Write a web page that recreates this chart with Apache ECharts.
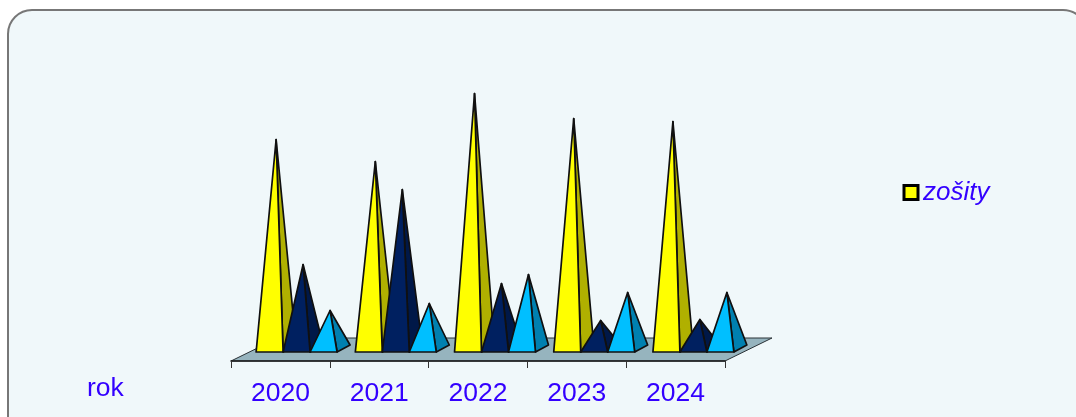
<!DOCTYPE html>
<html><head><meta charset="utf-8">
<style>html,body{margin:0;padding:0;background:#fff;overflow:hidden}#c{width:1076px;height:417px}</style>
<script src="https://cdn.jsdelivr.net/npm/echarts@6/dist/echarts.min.js"></script>
</head><body><div id="c"></div>
<script>
const categories = ['2020','2021','2022','2023','2024'];
const zosity = [209,187,255,230,227];
const rada2  = [84,159,65,28,29];
const rada3  = [38,45,74,56,56];
const legendLabel = 'zošity';
const axisTitle = 'rok';

const FONT = '"Liberation Sans", Arial, sans-serif';
const TEXT = '#3300ff';
const EDGE = '#101010';
const DX = 13, DY = -7, LIFT = 9, FLOOR_DX = 47, FLOOR_DY = -23;

function pyramid(slot, front, side) {
  return function (params, api) {
    const i = api.value(0), v = api.value(1);
    const top = api.coord([i, v]);
    const zero = api.coord([i, 0]);
    const w = api.size([1, 0])[0] * 0.272;
    const yb = zero[1] - LIFT;
    const xl = zero[0] + 15 + (slot - 1.5) * w;
    const xr = xl + w;
    const ax = (xl + xr) / 2 + DX / 2;
    const ay = top[1] - LIFT - DY / -2;
    const line = { stroke: EDGE, lineWidth: 1.7, lineJoin: 'round' };
    return { type: 'group', children: [
      { type: 'polygon', shape: { points: [[xr, yb], [xr + DX, yb + DY], [ax, ay]] }, style: Object.assign({ fill: side }, line) },
      { type: 'polygon', shape: { points: [[xl, yb], [xr, yb], [ax, ay]] }, style: Object.assign({ fill: front }, line) }
    ]};
  };
}
function floor(params) {
  const c = params.coordSys;
  const b = c.y + c.height, l = c.x, r = c.x + c.width;
  return { type: 'polygon', shape: { points: [[l, b], [r, b], [r + FLOOR_DX, b + FLOOR_DY], [l + FLOOR_DX, b + FLOOR_DY]] },
    style: { fill: '#96b4be', stroke: '#2a3236', lineWidth: 1 } };
}
const mkSeries = (name, data, slot, front, side) => ({
  type: 'custom', name, xAxisIndex: 1, yAxisIndex: 1, z: 3 + slot,
  renderItem: pyramid(slot, front, side),
  data: data.map((v, i) => [i, v]), encode: { x: 0, y: 1 }, clip: false, silent: true
});

const chart = echarts.init(document.getElementById('c'), null, { renderer: 'canvas' });
chart.setOption({
  animation: false,
  backgroundColor: '#ffffff',
  graphic: [{ type: 'rect', z: -10, silent: true,
    shape: { x: 8, y: 10, width: 1079, height: 430, r: 24 },
    style: { fill: '#f0f8fa', stroke: '#777777', lineWidth: 2 } }],
  title: { text: axisTitle, left: 87, top: 375, padding: 0,
    textStyle: { fontFamily: FONT, fontSize: 26.5, fontWeight: 'normal', color: TEXT } },
  legend: { left: 902.5, top: 179.5, itemWidth: 14, itemHeight: 14, itemGap: 0, padding: 0,
    data: [{ name: legendLabel, icon: 'rect', itemStyle: { color: '#ffff00', borderColor: '#000', borderWidth: 3 } }],
    textStyle: { fontFamily: FONT, fontSize: 26, fontStyle: 'italic', color: TEXT, padding: [8,0,0,0] } },
  grid: [
    { left: 231, width: 494, top: 61, height: 300 },
    { left: 232, width: 496, top: 61, height: 300 }
  ],
  xAxis: [
    { type: 'category', gridIndex: 0, data: categories, boundaryGap: true, z: 2,
      axisLine: { show: true, onZero: false, lineStyle: { color: '#1a1a1a', width: 1.6 } },
      axisTick: { show: true, length: 7, alignWithLabel: false, lineStyle: { color: '#333', width: 1 } },
      axisLabel: { fontFamily: FONT, fontSize: 26.5, color: TEXT, margin: 19 } },
    { type: 'category', gridIndex: 1, data: categories, show: false }
  ],
  yAxis: [
    { type: 'value', gridIndex: 0, min: 0, max: 300, show: false },
    { type: 'value', gridIndex: 1, min: 0, max: 300, show: false }
  ],
  series: [
    { type: 'custom', name: 'podlaha', xAxisIndex: 0, yAxisIndex: 0, z: 1, renderItem: floor, data: [[0, 0]], encode: { x: 0, y: 1 }, clip: false, silent: true },
    mkSeries(legendLabel, zosity, 0, '#ffff00', '#b0b000'),
    mkSeries('rada 2', rada2, 1, '#002060', '#001848'),
    mkSeries('rada 3', rada3, 2, '#00bfff', '#0080b0')
  ]
});
</script></body></html>
